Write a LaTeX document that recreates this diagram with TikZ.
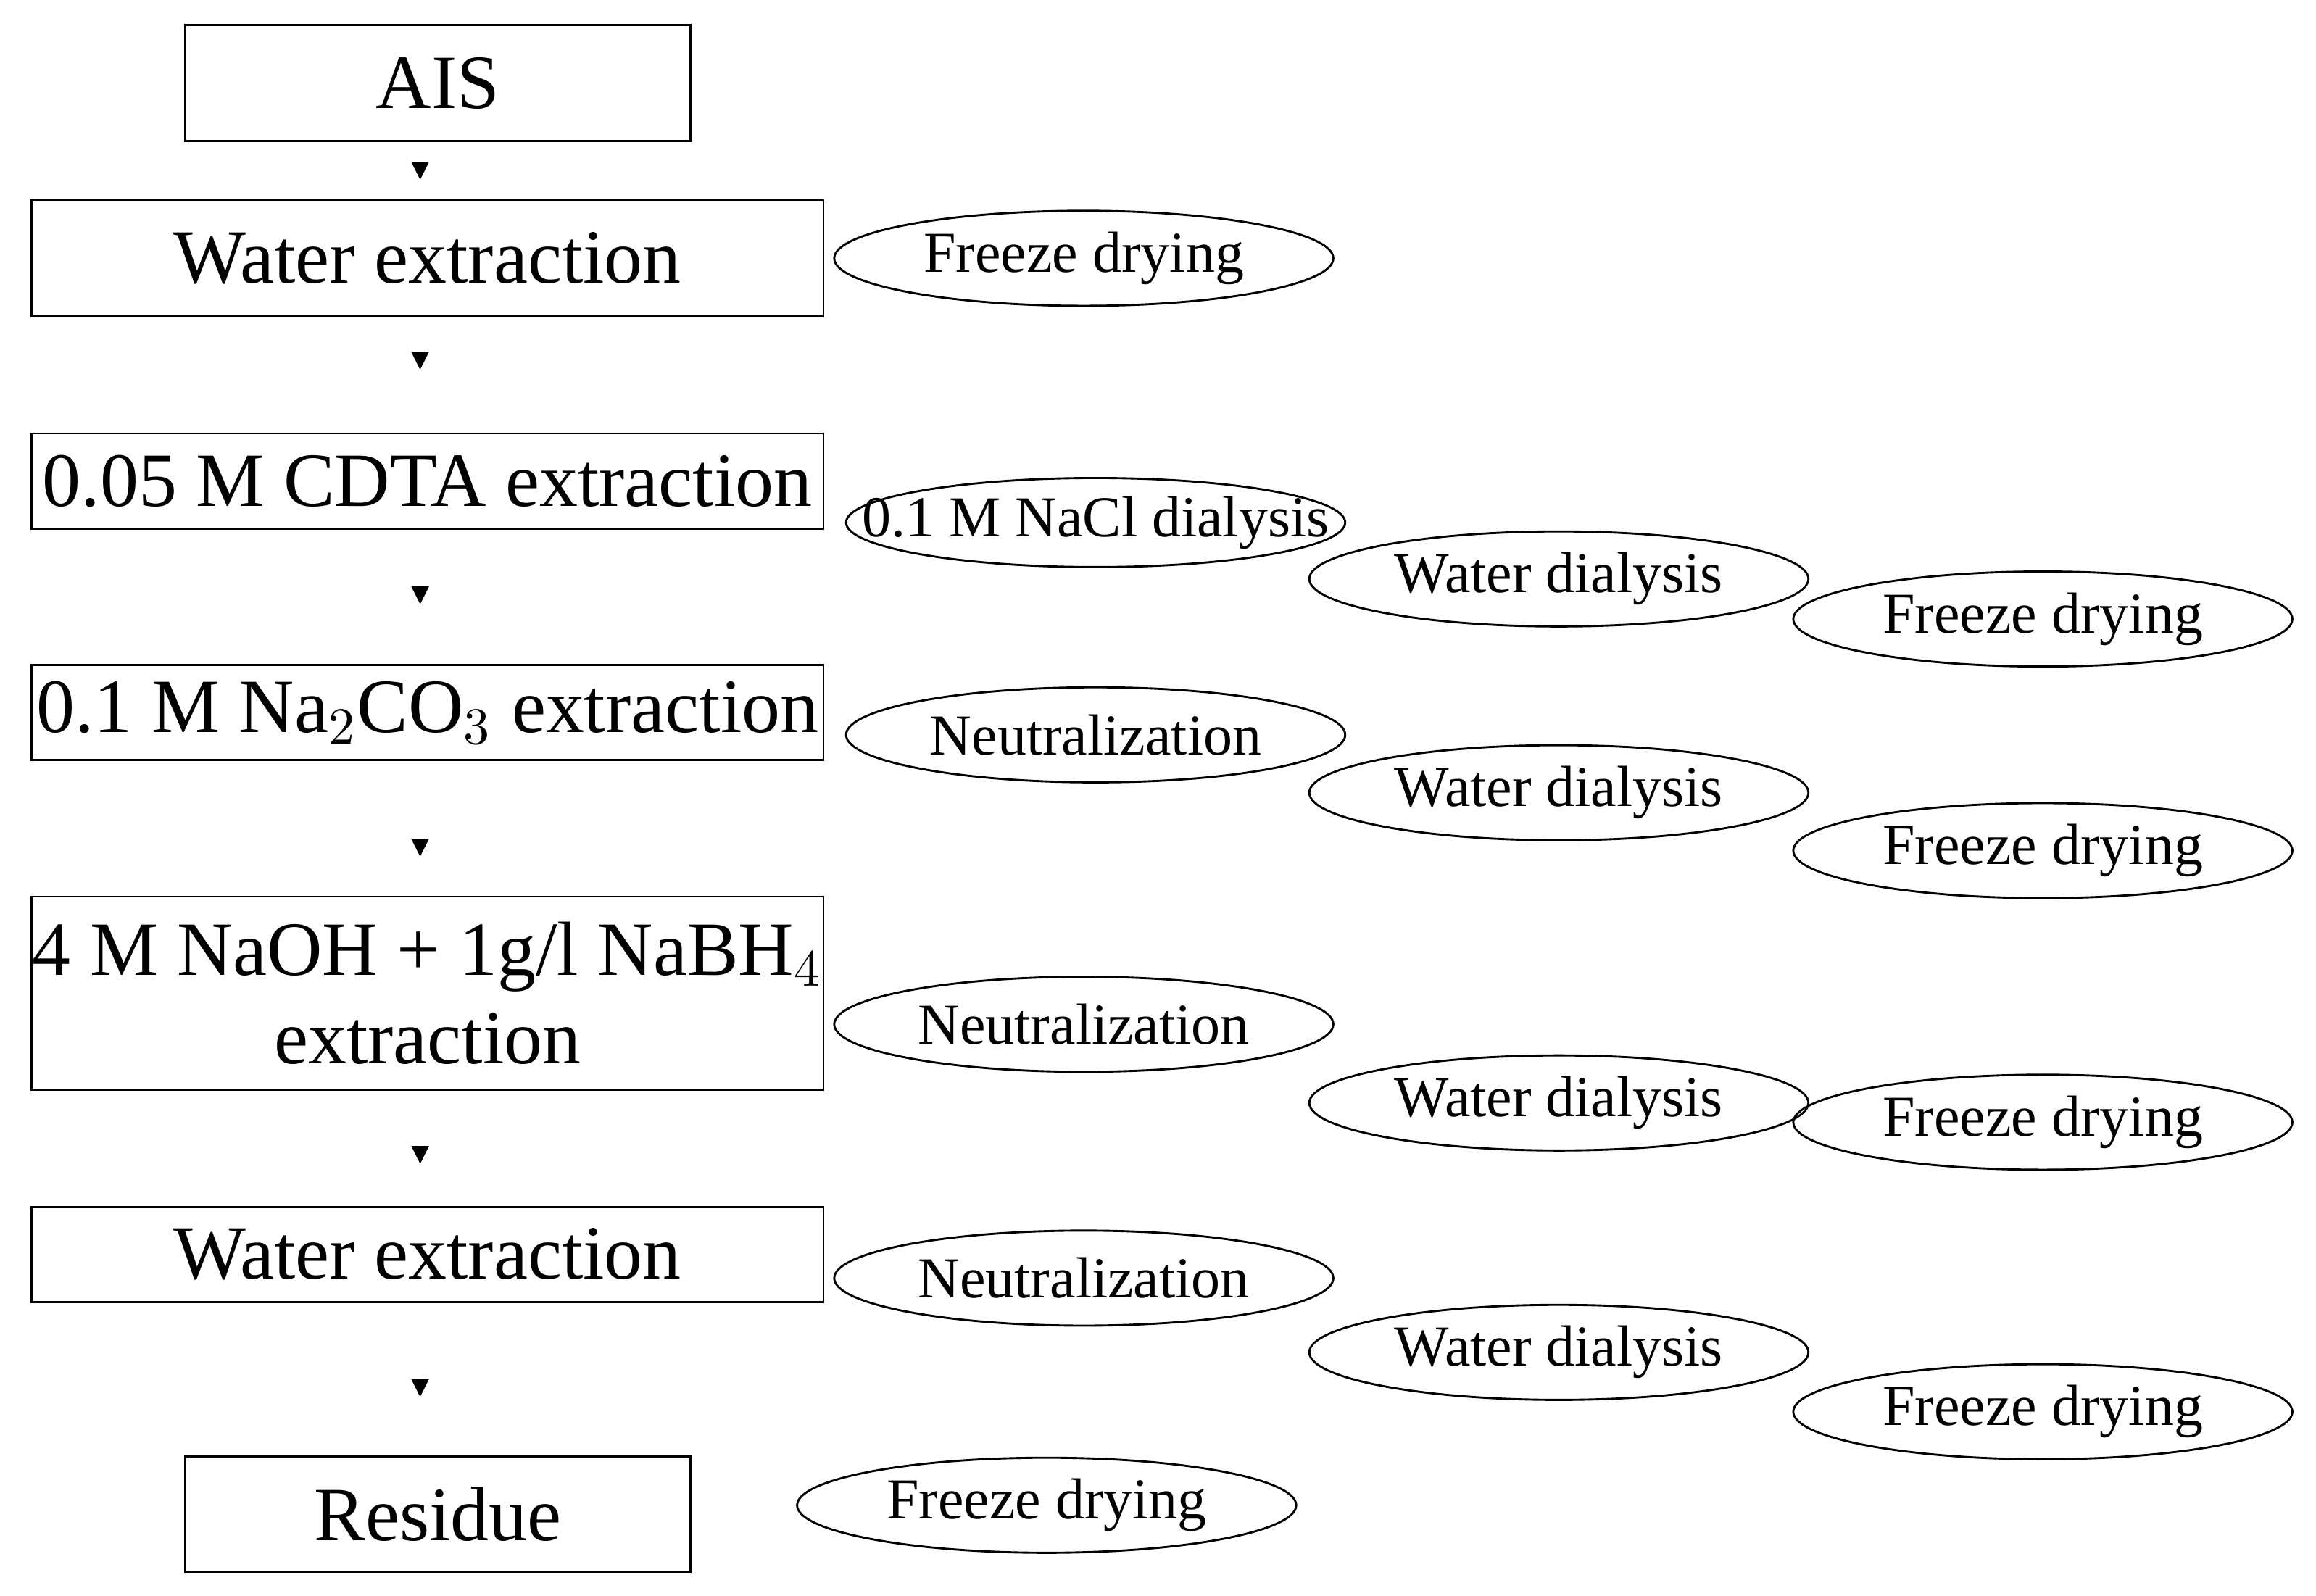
\documentclass[tikz,border=0pt]{standalone}
\usepackage{fontspec}
\setmainfont{Liberation Serif}
\usetikzlibrary{shapes.geometric,arrows.meta,calc}
\begin{document}
\begin{tikzpicture}[x=0.01cm,y=-0.01cm]
\tikzset{box/.style={draw,inner sep=0pt,font=\fontsize{14.7}{17}\selectfont,align=center},
  oval/.style={draw,ellipse,inner sep=0pt,minimum width=3.36cm,minimum height=0.64cm,font=\fontsize{11.1}{13}\selectfont}}
\useasboundingbox (0,0) rectangle (1560,1075);
% steps
\node[box,minimum width=3.4cm,minimum height=0.78cm] (ais) at (295,56) {AIS};
\node[box,minimum width=5.33cm,minimum height=0.78cm] (we1) at (288,174) {Water extraction};
\node[box,minimum width=5.33cm,minimum height=0.64cm] (cdta) at (288,324) {0.05 M CDTA extraction};
\node[box,minimum width=5.33cm,minimum height=0.64cm] (naco) at (288,480) {0.1 M Na$_2$CO$_3$ extraction};
\node[box,minimum width=5.33cm,minimum height=1.3cm] (naoh) at (288,669) {4 M NaOH + 1g/l NaBH$_4$\\extraction};
\node[box,minimum width=5.33cm,minimum height=0.64cm] (we2) at (288,845) {Water extraction};
\node[box,minimum width=3.4cm,minimum height=0.78cm] (res) at (295,1020) {Residue};
% arrows
\foreach \a/\y in {ais/115,we1/243,cdta/401,naco/571,naoh/778,we2/935}{
  \coordinate (t\a) at (283,\y-6);
  \coordinate (h\a) at (283,\y+6);
  \fill (t\a) ++(-6,0) -- ++(12,0) -- (h\a) -- cycle;
}
% treatments
\node[oval] (fd1) at (730,174) {Freeze drying};
\node[oval,minimum height=0.6cm,inner xsep=-0.45cm] (nacl) at (738,352) {0.1 M NaCl dialysis};
\node[oval] (wd1) at (1050,390) {Water dialysis};
\node[oval] (fd2) at (1376,417) {Freeze drying};
\node[oval] (ne1) at (738,495) {Neutralization};
\node[oval] (wd2) at (1050,534) {Water dialysis};
\node[oval] (fd3) at (1376,573) {Freeze drying};
\node[oval] (ne2) at (730,690) {Neutralization};
\node[oval] (wd3) at (1050,743) {Water dialysis};
\node[oval] (fd4) at (1376,756) {Freeze drying};
\node[oval] (ne3) at (730,861) {Neutralization};
\node[oval] (wd4) at (1050,911) {Water dialysis};
\node[oval] (fd5) at (1376,951) {Freeze drying};
\node[oval] (fd6) at (705,1014) {Freeze drying};
\end{tikzpicture}
\end{document}
